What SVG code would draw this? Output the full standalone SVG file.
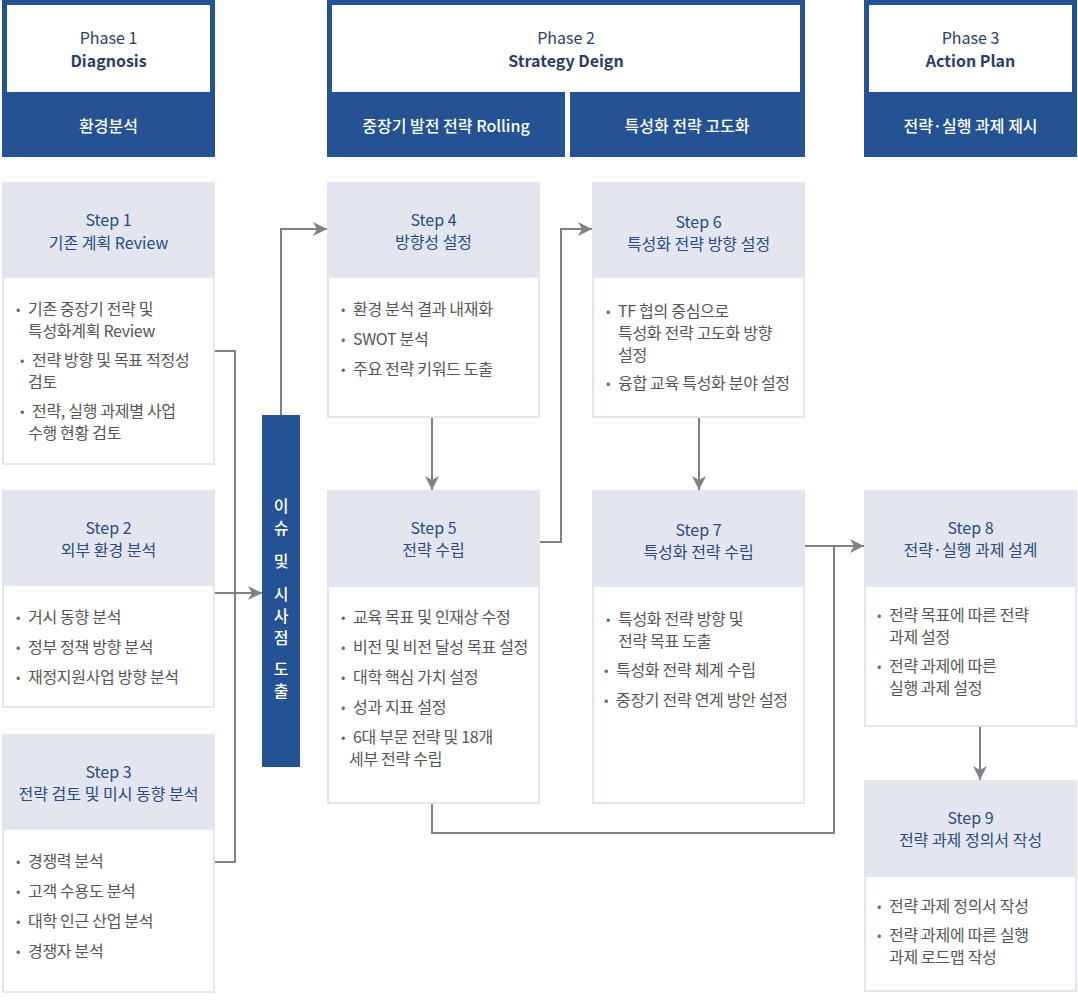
<svg xmlns="http://www.w3.org/2000/svg" width="1078" height="1002" viewBox="0 0 1078 1002">
<defs>
<marker id="ah" viewBox="0 0 14 14" refX="14" refY="7" markerWidth="14" markerHeight="14" markerUnits="userSpaceOnUse" orient="auto">
<path d="M0,0 L14,7 L0,14 L4,7 Z" fill="#808086"/>
</marker>
<style>
text{font-family:"Noto Sans CJK KR","Noto Sans",sans-serif;dominant-baseline:central}
.blue{fill:#245293}
.white{fill:#ffffff}
.ph{font-size:16px;fill:#2d3e66;text-anchor:middle}
.phb{font-size:16px;fill:#2d3e66;text-anchor:middle;font-weight:700}
.pl{font-size:16px;fill:#ffffff;text-anchor:middle;font-weight:500}
.sh{fill:#e3e6ee}
.sb{fill:#ffffff;stroke:#e3e6ee;stroke-width:2}
.st{font-size:16px;fill:#2b4a80;text-anchor:middle}
.bt{font-size:16px;fill:#555555;letter-spacing:-0.3px}
.bu{font-size:13px;fill:#666666}
.vt{font-size:16px;fill:#ffffff;text-anchor:middle;font-weight:500}
.con{fill:none;stroke:#808086;stroke-width:2}
</style>
</defs>
<rect width="1078" height="1002" fill="#ffffff"/>

<g id="phase1">
<rect class="blue" x="2" y="0" width="213" height="157"/>
<rect class="white" x="7" y="5" width="203" height="87"/>
<text class="ph" x="108.5" y="37">Phase 1</text>
<text class="phb" x="108.5" y="60">Diagnosis</text>
<text class="pl" x="108.5" y="125">환경분석</text>
</g>
<g id="phase2">
<rect class="blue" x="327" y="0" width="478" height="157"/>
<rect class="white" x="332" y="5" width="468" height="87"/>
<rect class="white" x="565" y="92" width="5" height="65"/>
<text class="ph" x="566" y="37">Phase 2</text>
<text class="phb" x="566" y="60">Strategy Deign</text>
<text class="pl" x="446" y="125">중장기 발전 전략 Rolling</text>
<text class="pl" x="687" y="125">특성화 전략 고도화</text>
</g>
<g id="phase3">
<rect class="blue" x="864" y="0" width="213" height="157"/>
<rect class="white" x="869" y="5" width="203" height="87"/>
<text class="ph" x="970.5" y="37">Phase 3</text>
<text class="phb" x="970.5" y="60">Action Plan</text>
<text class="pl" x="970.5" y="125">전략·실행 과제 제시</text>
</g>

<g id="step1">
<rect class="sb" x="3" y="183" width="211" height="281"/>
<rect class="sh" x="2" y="182" width="213" height="96"/>
<text class="st" x="108.5" y="219">Step 1</text>
<text class="st" x="108.5" y="242">기존 계획 Review</text>
<text class="bu" x="16" y="308">•</text><text class="bt"><tspan x="28" y="308">기존 중장기 전략 및</tspan><tspan x="28" y="330">특성화계획 Review</tspan></text>
<text class="bu" x="20" y="359">•</text><text class="bt"><tspan x="32" y="359">전략 방향 및 목표 적정성</tspan><tspan x="28" y="381">검토</tspan></text>
<text class="bu" x="20" y="410">•</text><text class="bt"><tspan x="32" y="410">전략, 실행 과제별 사업</tspan><tspan x="28" y="432">수행 현황 검토</tspan></text>
</g>
<g id="step2">
<rect class="sb" x="3" y="491" width="211" height="216"/>
<rect class="sh" x="2" y="490" width="213" height="96"/>
<text class="st" x="108.5" y="527">Step 2</text>
<text class="st" x="108.5" y="549">외부 환경 분석</text>
<text class="bu" x="16" y="616">•</text><text class="bt" x="28" y="616">거시 동향 분석</text>
<text class="bu" x="16" y="646">•</text><text class="bt" x="28" y="646">정부 정책 방향 분석</text>
<text class="bu" x="16" y="676">•</text><text class="bt" x="28" y="676">재정지원사업 방향 분석</text>
</g>
<g id="step3">
<rect class="sb" x="3" y="735" width="211" height="257"/>
<rect class="sh" x="2" y="734" width="213" height="96"/>
<text class="st" x="108.5" y="771">Step 3</text>
<text class="st" x="108.5" y="793">전략 검토 및 미시 동향 분석</text>
<text class="bu" x="16" y="860">•</text><text class="bt" x="28" y="860">경쟁력 분석</text>
<text class="bu" x="16" y="890">•</text><text class="bt" x="28" y="890">고객 수용도 분석</text>
<text class="bu" x="16" y="920">•</text><text class="bt" x="28" y="920">대학 인근 산업 분석</text>
<text class="bu" x="16" y="950">•</text><text class="bt" x="28" y="950">경쟁자 분석</text>
</g>

<g id="issue">
<rect class="blue" x="262" y="415" width="38" height="352"/>
<text class="vt"><tspan x="281" y="505">이</tspan><tspan x="281" y="527">슈</tspan><tspan x="281" y="560">및</tspan><tspan x="281" y="593">시</tspan><tspan x="281" y="615">사</tspan><tspan x="281" y="637">점</tspan><tspan x="281" y="668">도</tspan><tspan x="281" y="690">출</tspan></text>
</g>

<g id="step4">
<rect class="sb" x="328" y="183" width="211" height="234"/>
<rect class="sh" x="327" y="182" width="213" height="96"/>
<text class="st" x="433.5" y="219">Step 4</text>
<text class="st" x="433.5" y="241">방향성 설정</text>
<text class="bu" x="341" y="308">•</text><text class="bt" x="353" y="308">환경 분석 결과 내재화</text>
<text class="bu" x="341" y="338">•</text><text class="bt" x="353" y="338">SWOT 분석</text>
<text class="bu" x="341" y="368">•</text><text class="bt" x="353" y="368">주요 전략 키워드 도출</text>
</g>
<g id="step5">
<rect class="sb" x="328" y="491" width="211" height="312"/>
<rect class="sh" x="327" y="490" width="213" height="97"/>
<text class="st" x="433.5" y="527">Step 5</text>
<text class="st" x="433.5" y="549">전략 수립</text>
<text class="bu" x="341" y="616">•</text><text class="bt" x="353" y="616">교육 목표 및 인재상 수정</text>
<text class="bu" x="341" y="646">•</text><text class="bt" x="353" y="646">비전 및 비전 달성 목표 설정</text>
<text class="bu" x="341" y="676">•</text><text class="bt" x="353" y="676">대학 핵심 가치 설정</text>
<text class="bu" x="341" y="706">•</text><text class="bt" x="353" y="706">성과 지표 설정</text>
<text class="bu" x="341" y="736">•</text><text class="bt"><tspan x="353" y="736">6대 부문 전략 및 18개</tspan><tspan x="349" y="758">세부 전략 수립</tspan></text>
</g>
<g id="step6">
<rect class="sb" x="593" y="183" width="211" height="234"/>
<rect class="sh" x="592" y="182" width="213" height="96"/>
<text class="st" x="698.5" y="221">Step 6</text>
<text class="st" x="698.5" y="243">특성화 전략 방향 설정</text>
<text class="bu" x="606" y="310">•</text><text class="bt"><tspan x="618" y="310">TF 협의 중심으로</tspan><tspan x="618" y="332">특성화 전략 고도화 방향</tspan><tspan x="618" y="354">설정</tspan></text>
<text class="bu" x="606" y="382">•</text><text class="bt" x="618" y="382">융합 교육 특성화 분야 설정</text>
</g>
<g id="step7">
<rect class="sb" x="593" y="491" width="211" height="312"/>
<rect class="sh" x="592" y="490" width="213" height="97"/>
<text class="st" x="698.5" y="529">Step 7</text>
<text class="st" x="698.5" y="551">특성화 전략 수립</text>
<text class="bu" x="606" y="618">•</text><text class="bt"><tspan x="618" y="618">특성화 전략 방향 및</tspan><tspan x="618" y="640">전략 목표 도출</tspan></text>
<text class="bu" x="604" y="669">•</text><text class="bt" x="616" y="669">특성화 전략 체계 수립</text>
<text class="bu" x="604" y="699">•</text><text class="bt" x="616" y="699">중장기 전략 연계 방안 설정</text>
</g>
<g id="step8">
<rect class="sb" x="865" y="491" width="211" height="235"/>
<rect class="sh" x="864" y="490" width="213" height="97"/>
<text class="st" x="970.5" y="527">Step 8</text>
<text class="st" x="970.5" y="549">전략·실행 과제 설계</text>
<text class="bu" x="877" y="614">•</text><text class="bt"><tspan x="889" y="614">전략 목표에 따른 전략</tspan><tspan x="889" y="636">과제 설정</tspan></text>
<text class="bu" x="877" y="665">•</text><text class="bt"><tspan x="889" y="665">전략 과제에 따른</tspan><tspan x="889" y="687">실행 과제 설정</tspan></text>
</g>
<g id="step9">
<rect class="sb" x="865" y="781" width="211" height="210"/>
<rect class="sh" x="864" y="780" width="213" height="97"/>
<text class="st" x="970.5" y="817">Step 9</text>
<text class="st" x="970.5" y="839">전략 과제 정의서 작성</text>
<text class="bu" x="877" y="905">•</text><text class="bt" x="889" y="905">전략 과제 정의서 작성</text>
<text class="bu" x="877" y="934">•</text><text class="bt"><tspan x="889" y="934">전략 과제에 따른 실행</tspan><tspan x="889" y="956">과제 로드맵 작성</tspan></text>
</g>

<g id="connectors">
<polyline class="con" points="215,351 235,351 235,862 215,862"/>
<line class="con" x1="215" y1="593" x2="262" y2="593" marker-end="url(#ah)"/>
<polyline class="con" points="281,415 281,229 327,229" marker-end="url(#ah)"/>
<line class="con" x1="432" y1="418" x2="432" y2="490" marker-end="url(#ah)"/>
<polyline class="con" points="540,542 561,542 561,229 592,229" marker-end="url(#ah)"/>
<line class="con" x1="699" y1="418" x2="699" y2="490" marker-end="url(#ah)"/>
<line class="con" x1="805" y1="546" x2="864" y2="546" marker-end="url(#ah)"/>
<polyline class="con" points="432,804 432,833 834,833 834,546"/>
<line class="con" x1="980" y1="727" x2="980" y2="780" marker-end="url(#ah)"/>
</g>
</svg>
